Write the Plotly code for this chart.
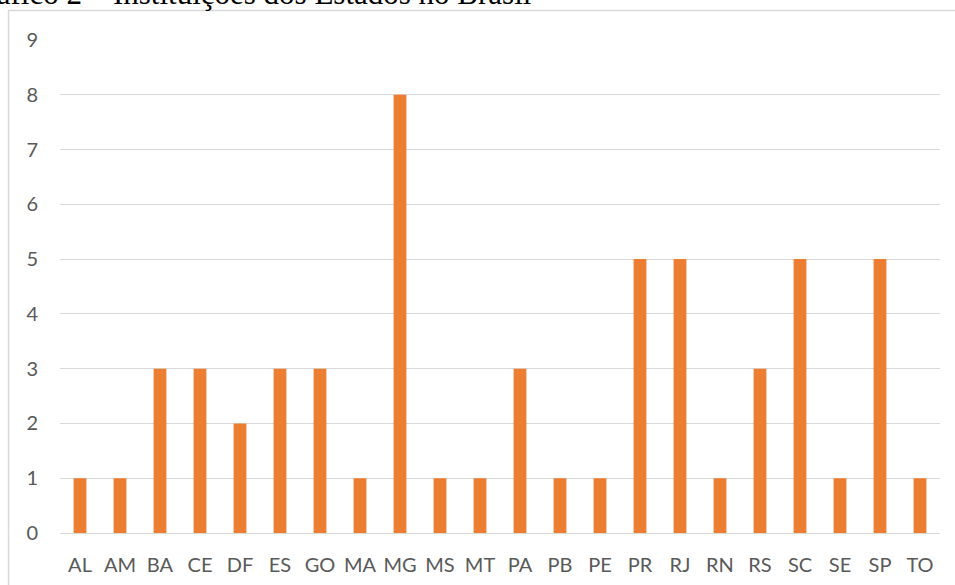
import plotly.graph_objects as go

estados = ["AL", "AM", "BA", "CE", "DF", "ES", "GO", "MA", "MG", "MS", "MT",
           "PA", "PB", "PE", "PR", "RJ", "RN", "RS", "SC", "SE", "SP", "TO"]
instituicoes = [1, 1, 3, 3, 2, 3, 3, 1, 8, 1, 1, 3, 1, 1, 5, 5, 1, 3, 5, 1, 5, 1]
y_ticks = list(range(0, 10))
titulo = "Gráfico 2 – Instituições dos Estados no Brasil"

W, H = 955, 585
L, R, T, B = 60, 15, 40, 52
pw, ph = W - L - R, H - T - B

def px_x(p):
    return (p - L) / pw

def px_y(p):
    return (H - B - p) / ph

fig = go.Figure(go.Bar(
    x=estados, y=instituicoes,
    marker=dict(color="#ED7D31", line=dict(width=0)),
    width=0.32,
))

fig.update_layout(
    width=W, height=H,
    margin=dict(l=L, r=R, t=T, b=B, autoexpand=False),
    paper_bgcolor="white", plot_bgcolor="white",
    showlegend=False,
    font=dict(family="Lato, Open Sans, sans-serif", color="#595959", size=20),
)
fig.update_xaxes(
    showgrid=False, showline=False, ticks="", automargin=False,
    tickfont=dict(size=20, color="#595959"),
    ticklabelstandoff=18,
)
fig.update_yaxes(
    range=[0, 9], tickvals=y_ticks, showgrid=True, gridcolor="#D9D9D9", gridwidth=1,
    zeroline=True, zerolinecolor="#D9D9D9", zerolinewidth=1,
    showline=False, ticks="", automargin=False,
    tickfont=dict(size=20, color="#595959"),
    ticklabelstandoff=21,
)

# outer chart frame
fig.add_shape(type="rect", xref="paper", yref="paper",
              x0=px_x(8.5), x1=px_x(W + 20), y0=px_y(H + 20), y1=px_y(10.5),
              line=dict(color="#D9D9D9", width=1.5), fillcolor="rgba(0,0,0,0)", layer="below")

fig.add_annotation(
    text=titulo, xref="paper", yref="paper",
    x=px_x(533), y=px_y(13), xanchor="right", yanchor="bottom",
    showarrow=False,
    font=dict(family="Liberation Serif, DejaVu Serif, serif", size=31, color="#000000"),
)

fig.write_html("out.html", config={"displayModeBar": False},
               post_script="document.body.style.margin='0';document.body.style.padding='0';")
